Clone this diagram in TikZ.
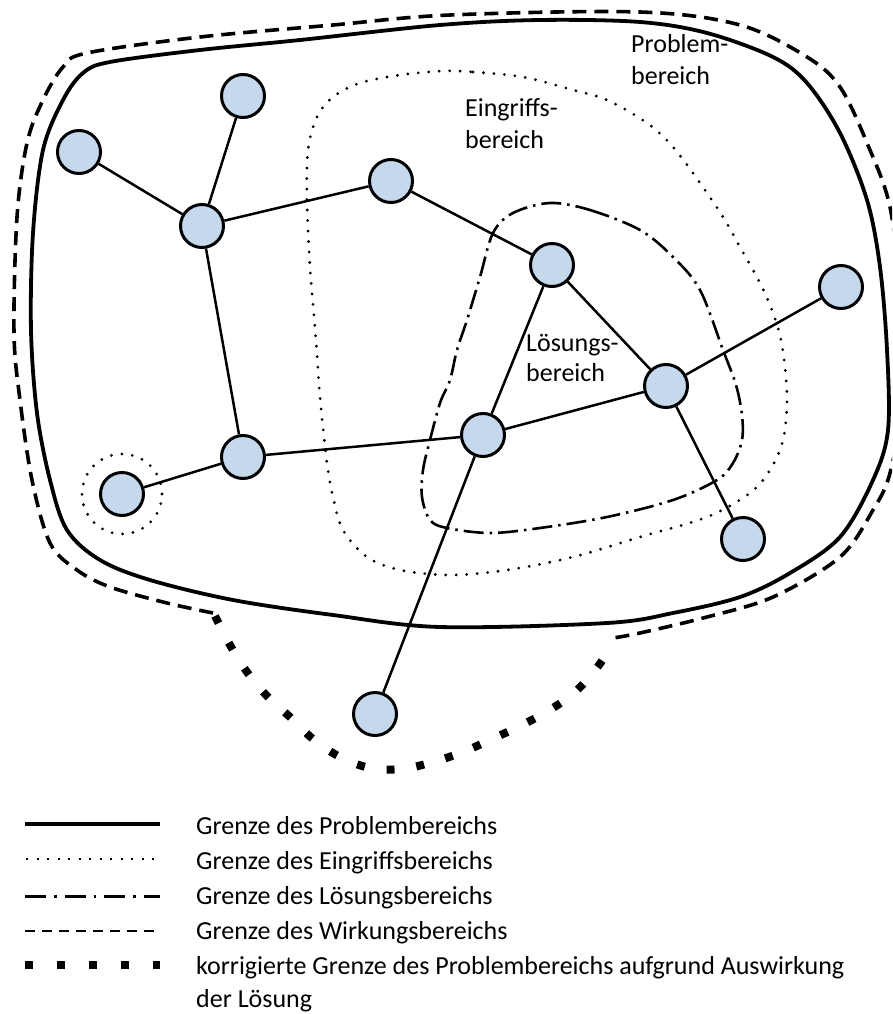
\documentclass[tikz,border=0pt]{standalone}
\usepackage{fontspec}
\setmainfont{Carlito}
\definecolor{nodeblue}{RGB}{197,216,236}
\begin{document}
\begin{tikzpicture}[x=1pt,y=-1pt,
  knot/.style={circle, draw, line width=3pt, fill=nodeblue, minimum size=43pt, inner sep=0pt},
  link/.style={line width=2.5pt},
  problem/.style={line width=3.8pt},
  wirkung/.style={line width=3.6pt, dash pattern=on 14pt off 8pt},
  eingriff/.style={line width=3.1pt, line cap=round, dash pattern=on 0pt off 10.5pt},
  loesung/.style={line width=2.6pt, dash pattern=on 20pt off 6pt on 2.5pt off 6pt},
  korrektur/.style={line width=8pt, dash pattern=on 8pt off 22pt},
  lbl/.style={anchor=base west, inner sep=0pt, font=\fontsize{26}{31}\selectfont},
  legline/.style={line width=3.2pt},
  legdot/.style={line width=2pt, dash pattern=on 2pt off 8.5pt},
  legdashdot/.style={line width=3pt, dash pattern=on 21pt off 8pt on 2.5pt off 8pt},
  legdash/.style={line width=2.8pt, dash pattern=on 10pt off 7pt},
  legsquare/.style={line width=7.5pt, dash pattern=on 7.5pt off 24.5pt}
]
\useasboundingbox (0,0) rectangle (892,1014);
\begin{scope}
\clip (0,0) rectangle (892,1014);

% Problembereich
\draw[problem] plot[smooth cycle, tension=0.55] coordinates {
  (440,25) (540,20) (640,22) (707,33) (773,57) (807,83) (840,133) (867,200)
  (880,267) (887,350) (888,430) (873,480) (840,537) (790,573) (740,597)
  (673,613) (607,623) (440,627) (333,615) (233,600) (150,580) (100,560)
  (67,530) (50,480) (37,413) (31,330) (33,233) (43,150) (63,100) (83,73)
  (110,62) (200,50) (300,40)};

% Wirkungsbereich
\draw[wirkung] plot[smooth, tension=0.55] coordinates {
  (213,613) (167,603) (110,587) (77,570) (50,543) (32,480) (20,400) (14,333)
  (17,217) (27,143) (43,100) (63,67) (87,53) (200,37) (333,25) (450,15)
  (640,12) (740,25) (807,57) (840,87) (867,143) (890,207) (900,300)
  (902,400) (890,473) (873,510) (840,557) (773,597) (707,617) (640,633)
  (613,638)};

% korrigierte Grenze
\draw[korrektur] plot[smooth, tension=0.55] coordinates {
  (215,616) (230,645) (247,672) (267,696) (290,717) (313,739) (340,757)
  (370,768) (402,769) (433,762) (463,752) (492,739) (520,726) (548,711)
  (574,693) (596,669) (614,643)};

% Eingriffsbereich
\draw[eingriff] plot[smooth cycle, tension=0.55] coordinates {
  (443,71) (473,72) (523,77) (573,90) (607,100) (647,123) (673,147) (700,183)
  (723,217) (740,247) (760,283) (773,313) (782,345) (787,397) (783,440)
  (770,470) (750,493) (707,517) (640,537) (573,557) (507,570) (450,575)
  (400,570) (367,557) (343,530) (333,497) (327,463) (320,397) (316,340)
  (310,267) (307,200) (308,150) (317,117) (333,97) (360,83) (400,75)};

% Loesungsbereich
\draw[loesung] plot[smooth cycle, tension=0.55] coordinates {
  (550,203) (590,210) (640,230) (673,257) (700,290) (723,350) (736,385)
  (742,415) (742,440) (733,463) (717,480) (673,500) (607,517) (540,528)
  (490,533) (447,528) (430,520) (422,497) (423,470) (430,440) (440,403)
  (450,380) (457,350) (467,320) (480,277) (493,233) (513,213)};
\end{scope}

% Knoten
\node[knot] (A) at (79,152) {};
\node[knot] (B) at (243,96) {};
\node[knot] (C) at (202,226) {};
\node[knot] (D) at (391,181) {};
\node[knot] (E) at (552,265) {};
\node[knot] (F) at (841,287) {};
\node[knot] (G) at (666,386) {};
\node[knot] (H) at (483,435) {};
\node[knot] (I) at (743,539) {};
\node[knot] (J) at (243,457) {};
\node[knot] (K) at (122,494) {};
\node[knot] (L) at (375,714) {};

\draw[eingriff] (K) circle (40pt);

% Verbindungen
\draw[link] (A) -- (C);
\draw[link] (B) -- (C);
\draw[link] (C) -- (D);
\draw[link] (D) -- (E);
\draw[link] (C) -- (J);
\draw[link] (J) -- (K);
\draw[link] (J) -- (H);
\draw[link] (H) -- (G);
\draw[link] (E) -- (G);
\draw[link] (G) -- (F);
\draw[link] (G) -- (I);
\draw[link] (E) -- (H);
\draw[link] (H) -- (L);

% Bereichsnamen
\node[lbl] (p1) at (631,53) {Problem-};
\node[lbl] (p2) at (631,85) {bereich};
\node[lbl] (e1) at (465,117) {Eingriffs-};
\node[lbl] (e2) at (465,148) {bereich};
\node[lbl] (l1) at (526,351) {Lösungs-};
\node[lbl] (l2) at (526,381) {bereich};

% Legende
\coordinate (s1) at (25,824); \coordinate (t1) at (160,824);
\coordinate (s2) at (26,859); \coordinate (t2) at (160,859);
\coordinate (s3) at (25,896); \coordinate (t3) at (160,896);
\coordinate (s4) at (25,931); \coordinate (t4) at (160,931);
\coordinate (s5) at (25,965); \coordinate (t5) at (160,965);
\draw[legline] (s1) -- (t1);
\draw[legdot] (s2) -- (t2);
\draw[legdashdot] (s3) -- (t3);
\draw[legdash] (s4) -- (t4);
\draw[legsquare] (s5) -- (t5);
\node[lbl] (g1) at (196,834) {Grenze des Problembereichs};
\node[lbl] (g2) at (196,869) {Grenze des Eingriffsbereichs};
\node[lbl] (g3) at (196,904) {Grenze des Lösungsbereichs};
\node[lbl] (g4) at (196,939) {Grenze des Wirkungsbereichs};
\node[lbl] (g5) at (196,974) {korrigierte Grenze des Problembereichs aufgrund Auswirkung};
\node[lbl] (g6) at (196,1007) {der Lösung};
\end{tikzpicture}
\end{document}
